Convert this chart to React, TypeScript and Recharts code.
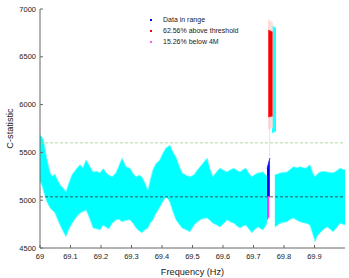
import React from 'react';
import { ComposedChart, Area, XAxis, YAxis, ReferenceLine } from 'recharts';

// ---- data ----
const bandLeftFreq = [69.0, 69.007, 69.013, 69.023, 69.033, 69.039, 69.049, 69.059, 69.066, 69.075, 69.085, 69.095, 69.105, 69.118, 69.131, 69.141, 69.151, 69.164, 69.174, 69.187, 69.197, 69.207, 69.216, 69.226, 69.236, 69.249, 69.259, 69.269, 69.282, 69.295, 69.305, 69.315, 69.325, 69.334, 69.344, 69.354, 69.361, 69.37, 69.38, 69.393, 69.403, 69.413, 69.42, 69.426, 69.436, 69.446, 69.456, 69.466, 69.479, 69.492, 69.505, 69.515, 69.525, 69.538, 69.548, 69.557, 69.567, 69.58, 69.59, 69.603, 69.613, 69.626, 69.636, 69.646, 69.656, 69.666, 69.675, 69.685, 69.695, 69.705, 69.715, 69.725, 69.731, 69.741, 69.744];
const bandLeftLow = [5200, 5150, 5080, 4980, 4920, 4900, 4870, 4790, 4740, 4680, 4620, 4700, 4760, 4820, 4866, 4880, 4900, 4800, 4710, 4700, 4690, 4740, 4720, 4700, 4760, 4795, 4800, 4775, 4790, 4795, 4760, 4710, 4680, 4660, 4690, 4710, 4760, 4795, 4860, 4930, 4990, 5035, 5010, 4980, 4880, 4795, 4750, 4710, 4690, 4670, 4740, 4770, 4795, 4810, 4815, 4790, 4760, 4740, 4720, 4760, 4795, 4770, 4760, 4730, 4710, 4730, 4740, 4700, 4660, 4700, 4720, 4700, 4690, 4740, 4760];
const bandLeftHigh = [5680, 5660, 5600, 5420, 5290, 5250, 5270, 5200, 5160, 5130, 5085, 5180, 5265, 5320, 5370, 5340, 5420, 5350, 5295, 5300, 5285, 5330, 5290, 5260, 5245, 5285, 5360, 5440, 5350, 5335, 5280, 5245, 5260, 5245, 5180, 5105, 5200, 5315, 5380, 5420, 5490, 5545, 5560, 5575, 5500, 5450, 5360, 5285, 5260, 5245, 5265, 5310, 5350, 5400, 5440, 5330, 5245, 5300, 5335, 5310, 5295, 5320, 5335, 5310, 5295, 5320, 5335, 5280, 5245, 5270, 5285, 5290, 5295, 5260, 5250];

const bandRightFreq = [69.77, 69.78, 69.787, 69.8, 69.81, 69.82, 69.83, 69.843, 69.852, 69.862, 69.872, 69.885, 69.895, 69.902, 69.908, 69.918, 69.931, 69.941, 69.951, 69.961, 69.974, 69.984, 70.0];
const bandRightLow = [4720, 4740, 4760, 4770, 4775, 4800, 4815, 4790, 4775, 4765, 4760, 4740, 4640, 4565, 4620, 4660, 4700, 4720, 4700, 4670, 4720, 4760, 4740];
const bandRightHigh = [5265, 5275, 5285, 5290, 5295, 5320, 5350, 5340, 5350, 5340, 5335, 5370, 5280, 5245, 5270, 5295, 5300, 5295, 5290, 5285, 5310, 5335, 5315];

const cyanSpikeFreq = [69.7605, 69.7738];
const cyanSpikeLow = [5700, 5720];
const cyanSpikeHigh = [6830, 6800];

const redHaloFreq = [69.7475, 69.763];
const redHaloLow = [5740, 5760];
const redHaloHigh = [6890, 6860];

const redFreq = [69.7485, 69.7625];
const redLow = [5870, 5880];
const redHigh = [6780, 6760];

const traceFreq = [69.7525, 69.7545];
const traceLow = [5420, 5440];
const traceHigh = [5860, 5860];

const blueFreq = [69.7443, 69.7535];
const blueLow = [5035, 5035];
const blueHigh = [5330, 5440];

const magentaFreq = [69.7443, 69.7515];
const magentaLow = [4790, 4830];
const magentaHigh = [5035, 5035];

const xTicks = [69, 69.1, 69.2, 69.3, 69.4, 69.5, 69.6, 69.7, 69.8, 69.9];
const topTicks = [69.7, 69.8, 69.9];
const yTicks = [4500, 5000, 5500, 6000, 6500, 7000];
const rightTicks = [6500];
const thresholdLevel = 5600;
const meanLevel = 5035;

const legendLabels = ['Data in range', '62.56% above threshold', '15.26% below 4M'];
const legendColors = ['#0000ff', '#ff0000', '#ff55ff'];

// ---- table for the library ----
const series = [
  { key: 'bandL', freq: bandLeftFreq, low: bandLeftLow, high: bandLeftHigh, fill: '#00ffff', stroke: '#60ffff' },
  { key: 'bandR', freq: bandRightFreq, low: bandRightLow, high: bandRightHigh, fill: '#00ffff', stroke: '#60ffff' },
  { key: 'cyanSpike', freq: cyanSpikeFreq, low: cyanSpikeLow, high: cyanSpikeHigh, fill: '#20ffff', stroke: '#90ffff' },
  { key: 'redHalo', freq: redHaloFreq, low: redHaloLow, high: redHaloHigh, fill: '#ffdcdc', stroke: '#ffe6e6' },
  { key: 'red', freq: redFreq, low: redLow, high: redHigh, fill: '#ff0000', stroke: '#ff2020' },
  { key: 'trace', freq: traceFreq, low: traceLow, high: traceHigh, fill: '#d8ccf4', stroke: '#d8ccf4' },
  { key: 'blue', freq: blueFreq, low: blueLow, high: blueHigh, fill: '#0000ff', stroke: '#2020ff' },
  { key: 'magenta', freq: magentaFreq, low: magentaLow, high: magentaHigh, fill: '#ff33ff', stroke: '#ff55ff' },
];

const rows: any[] = [];
series.forEach((s) => {
  s.freq.forEach((f, i) => {
    const row: any = { f };
    series.forEach((o) => {
      row[o.key] = o.key === s.key ? [s.low[i], s.high[i]] : [null, null];
    });
    rows.push(row);
  });
});
rows.sort((a, b) => a.f - b.f);

const FONT = '"Liberation Sans", Arial, Helvetica, sans-serif';
const tickStyle = { fontSize: 7.5, fill: '#222', fontFamily: FONT };

export default function App() {
  return (
    <div style={{ position: 'absolute', left: 0, top: 0, width: 349, height: 278, background: '#fff' }}>
      <ComposedChart width={349} height={278} data={rows} margin={{ top: 0, right: 0, bottom: 0, left: 0 }}>
        <XAxis
          xAxisId="b"
          dataKey="f"
          type="number"
          domain={[69, 70]}
          ticks={xTicks}
          allowDataOverflow
          height={30}
          stroke="#666"
          tickSize={-3}
          tickMargin={9}
          tick={tickStyle}
          tickFormatter={(v: number) => String(Math.round(v * 10) / 10)}
          interval={0}
          label={{ value: 'Frequency (Hz)', position: 'insideBottom', offset: 3, style: { fontSize: 9.2, fill: '#222', fontFamily: FONT } }}
        />
        <XAxis
          xAxisId="t"
          orientation="top"
          dataKey="f"
          type="number"
          domain={[69, 70]}
          ticks={topTicks}
          allowDataOverflow
          height={9}
          axisLine={false}
          stroke="#666"
          tickSize={-3}
          tick={false}
          interval={0}
        />
        <YAxis
          yAxisId="l"
          type="number"
          domain={[4500, 7000]}
          ticks={yTicks}
          allowDataOverflow
          width={40}
          stroke="#666"
          tickSize={-3}
          tickMargin={7}
          tick={tickStyle}
          interval={0}
          label={{ value: 'C-statistic', angle: -90, position: 'insideLeft', offset: 10, style: { fontSize: 9.2, fill: '#222', fontFamily: FONT, textAnchor: 'middle' } }}
        />
        <YAxis
          yAxisId="r"
          orientation="right"
          type="number"
          domain={[4500, 7000]}
          ticks={rightTicks}
          allowDataOverflow
          width={4}
          axisLine={false}
          stroke="#666"
          tickSize={-3}
          tick={false}
          interval={0}
        />
        {series.map((s) => (
          <Area
            key={s.key}
            xAxisId="b"
            yAxisId="l"
            dataKey={s.key}
            type="linear"
            fill={s.fill}
            fillOpacity={1}
            stroke={s.stroke}
            strokeWidth={0.8}
            connectNulls
            dot={false}
            activeDot={false}
            isAnimationActive={false}
          />
        ))}
        <ReferenceLine xAxisId="b" yAxisId="l" y={thresholdLevel} stroke="#9ccf8c" strokeWidth={0.8} strokeDasharray="3 2" />
        <ReferenceLine xAxisId="b" yAxisId="l" y={meanLevel} stroke="#333" strokeWidth={0.8} strokeDasharray="3 2" />
      </ComposedChart>
      <div style={{ position: 'absolute', left: 0, top: 0, fontFamily: FONT, fontSize: 7, color: '#222' }}>
        {legendLabels.map((t, i) => (
          <div key={t} style={{ position: 'absolute', left: 149, top: 16 + i * 10.8, height: 8, lineHeight: '8px', whiteSpace: 'nowrap' }}>
            <span style={{ position: 'absolute', left: 1, top: 3, width: 2, height: 2, background: legendColors[i] }} />
            <span style={{ position: 'absolute', left: 14, top: 0 }}>{t}</span>
          </div>
        ))}
      </div>
    </div>
  );
}
